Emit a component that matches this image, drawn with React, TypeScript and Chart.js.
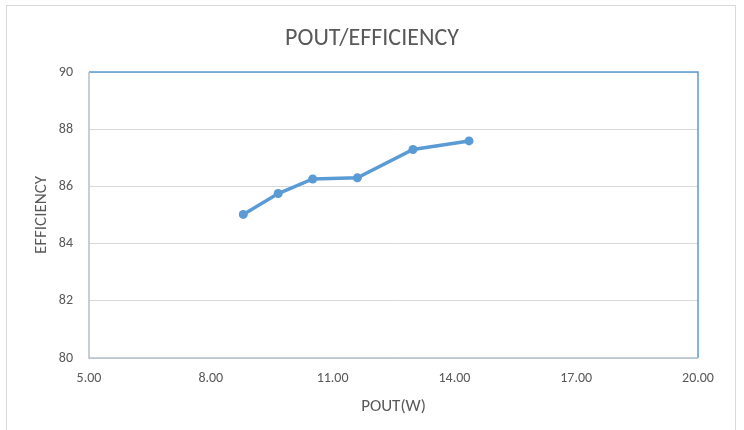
import React, { useEffect, useRef } from "react";
import { Chart, registerables } from "chart.js";

Chart.register(...registerables);

const poutW = [8.8, 9.66, 10.51, 11.61, 12.98, 14.36];
const efficiency = [85.02, 85.75, 86.26, 86.3, 87.29, 87.59];
const xMin = 5;
const xMax = 20;
const xStep = 3;
const yMin = 80;
const yMax = 90;
const yStep = 2;
const chartTitle = "POUT/EFFICIENCY";
const xTitle = "POUT(W)";
const yTitle = "EFFICIENCY";

const FONT = "Carlito, Calibri, Lato, 'Open Sans', sans-serif";

const plotBorder = {
  id: "plotBorder",
  afterDraw(chart: any) {
    const { ctx, chartArea } = chart;
    const { left, right, top, bottom } = chartArea;
    ctx.save();
    ctx.lineWidth = 1.5;
    ctx.strokeStyle = "#5b9bd5";
    ctx.beginPath();
    ctx.moveTo(left, top);
    ctx.lineTo(right, top);
    ctx.lineTo(right, bottom);
    ctx.stroke();
    ctx.strokeStyle = "#b4bfcc";
    ctx.beginPath();
    ctx.moveTo(left, top);
    ctx.lineTo(left, bottom);
    ctx.lineTo(right, bottom);
    ctx.stroke();
    // chart title, centred on the whole canvas
    ctx.fillStyle = "#595959";
    ctx.font = `24px ${FONT}`;
    ctx.textAlign = "center";
    ctx.textBaseline = "alphabetic";
    ctx.fillText(chartTitle, chart.width / 2, 45);
    ctx.restore();
  },
};

export default function App() {
  const ref = useRef<HTMLCanvasElement>(null);
  useEffect(() => {
    if (!ref.current) return;
    const chart = new Chart(ref.current, {
      type: "scatter",
      data: {
        datasets: [
          {
            data: poutW.map((x, i) => ({ x, y: efficiency[i] })),
            showLine: true,
            borderColor: "#5b9bd5",
            backgroundColor: "#5b9bd5",
            borderWidth: 3.5,
            pointRadius: 4.5,
            pointHoverRadius: 4.5,
            pointBorderWidth: 0,
          },
        ],
      },
      options: {
        responsive: false,
        animation: false,
        layout: { padding: { left: 0, right: 46, top: 72, bottom: 0 } },
        plugins: {
          legend: { display: false },
          tooltip: { enabled: false },
          title: { display: false },
        },
        scales: {
          x: {
            type: "linear",
            min: xMin,
            max: xMax,
            afterFit(scale: any) {
              scale.height = 72;
            },
            ticks: {
              stepSize: xStep,
              color: "#595959",
              font: { family: FONT, size: 14 },
              padding: 12,
              maxRotation: 0,
              callback: (v: any) => Number(v).toFixed(2),
            },
            grid: { display: false, drawTicks: false },
            border: { display: false },
            title: {
              display: true,
              text: xTitle,
              color: "#595959",
              font: { family: FONT, size: 17 },
              padding: { top: 0, bottom: 13 },
            },
          },
          y: {
            type: "linear",
            min: yMin,
            max: yMax,
            afterFit(scale: any) {
              scale.width = 89;
            },
            ticks: {
              stepSize: yStep,
              color: "#595959",
              font: { family: FONT, size: 14 },
              padding: 16,
            },
            grid: { color: "#d9d9d9", lineWidth: 1, drawTicks: false },
            border: { display: false },
            title: {
              display: true,
              text: yTitle,
              color: "#595959",
              font: { family: FONT, size: 17 },
              padding: { top: 32, bottom: 0 },
            },
          },
        },
      },
      plugins: [plotBorder],
    });
    return () => chart.destroy();
  }, []);

  return (
    <div style={{ position: "absolute", left: 0, top: 0, width: 744, height: 430, background: "#fff", overflow: "hidden" }}>
      <div
        style={{
          position: "absolute",
          left: 6,
          top: 5,
          width: 730,
          height: 440,
          border: "1px solid #d9d9d9",
          boxSizing: "border-box",
        }}
      />
      <canvas ref={ref} width={744} height={430} style={{ position: "absolute", left: 0, top: 0 }} />
    </div>
  );
}
